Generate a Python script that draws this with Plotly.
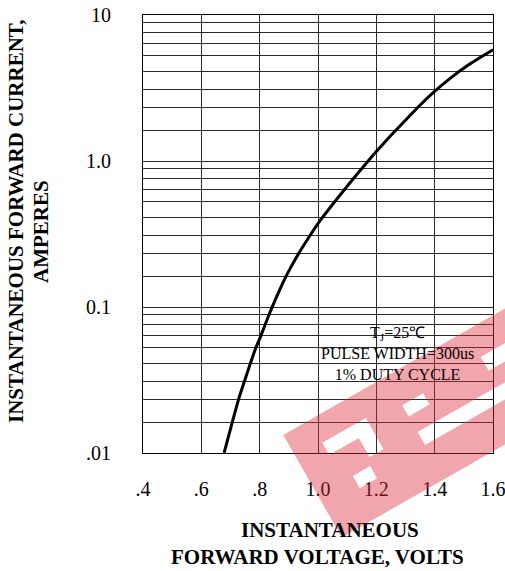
import plotly.graph_objects as go

# ---- data ----
VF = [0.678, 0.706, 0.728, 0.749, 0.768, 0.786, 0.805, 0.822, 0.841, 0.864,
      0.884, 0.908, 0.934, 0.980, 1.009, 1.071, 1.116, 1.167, 1.200, 1.253,
      1.301, 1.347, 1.394, 1.452, 1.509, 1.600]
IF = [0.0100, 0.0162, 0.0234, 0.0315, 0.0410, 0.0520, 0.0642, 0.0787, 0.0978, 0.125,
      0.153, 0.189, 0.233, 0.325, 0.395, 0.569, 0.736, 0.974, 1.16, 1.52,
      1.91, 2.38, 2.93, 3.67, 4.46, 5.78]

X_TICKS = [0.4, 0.6, 0.8, 1.0, 1.2, 1.4, 1.6]
X_TICKTEXT = [".4", ".6", ".8", "1.0", "1.2", "1.4", "1.6"]
Y_TICKS = [0.01, 0.1, 1.0, 10.0]
Y_TICKTEXT = [".01", "0.1", "1.0", "10"]
# intermediate grid lines inside each decade (as drawn in the reference)
GRID_MANTISSAS = [1.63, 2.34, 3.11, 4.09, 5.24, 6.43, 7.64, 8.91]
DECADES = [0.01, 0.1, 1.0]

NOTE_LINES = ["T<sub>J</sub>=25\u2103", "PULSE WIDTH=300us", "1% DUTY CYCLE"]
X_TITLE = ["INSTANTANEOUS", "FORWARD VOLTAGE, VOLTS"]
Y_TITLE = ["INSTANTANEOUS FORWARD CURRENT,", "AMPERES"]

minor_vals = [m * d for d in DECADES for m in GRID_MANTISSAS]

# ---- layout geometry (reference pixels) ----
W_REF, H_REF = 505, 571
L_REF, R_REF, T_REF, B_REF = 143, 493, 15, 453
PW = R_REF - L_REF
PH = B_REF - T_REF


def px(x):
    return (x - L_REF) / PW


def py(y):
    return (B_REF - y) / PH


SERIF = "Liberation Serif, Times New Roman, serif"
GRID = "#2a2a2a"

fig = go.Figure()
fig.add_trace(go.Scatter(x=VF, y=IF, mode="lines",
                         line=dict(color="black", width=3, shape="spline", smoothing=0.8),
                         showlegend=False, hoverinfo="skip"))

fig.update_xaxes(range=[0.4, 1.6], tickvals=X_TICKS, ticktext=X_TICKTEXT,
                 showgrid=True, gridcolor=GRID, gridwidth=1, zeroline=False,
                 showline=True, linecolor="black", linewidth=1, mirror=True,
                 ticks="", ticklabelstandoff=18, automargin=False,
                 ticklabeloverflow="allow",
                 tickfont=dict(family=SERIF, size=20, color="black"))
fig.update_yaxes(type="log", range=[-2, 1], tickvals=Y_TICKS, ticktext=Y_TICKTEXT,
                 showgrid=True, gridcolor=GRID, gridwidth=1, zeroline=False,
                 showline=True, linecolor="black", linewidth=1, mirror=True,
                 ticks="", ticklabelstandoff=27, automargin=False,
                 ticklabeloverflow="allow",
                 tickfont=dict(family=SERIF, size=20, color="black"),
                 minor=dict(tickvals=minor_vals, showgrid=True, gridcolor=GRID,
                            gridwidth=1, ticks=""))

# white note box
fig.add_shape(type="rect", xref="paper", yref="paper",
              x0=px(317), x1=px(487), y0=py(391), y1=py(318),
              fillcolor="white", line=dict(width=0), layer="between")
fig.add_annotation(xref="paper", yref="paper", x=px(397), y=py(353),
                   text="<br>".join(NOTE_LINES), showarrow=False,
                   font=dict(family=SERIF, size=16, color="black"),
                   align="center", xanchor="center", yanchor="middle")

# axis titles
fig.add_annotation(xref="paper", yref="paper", x=px(330), y=py(530), text="<b>%s</b>" % X_TITLE[0],
                   showarrow=False, font=dict(family=SERIF, size=21, color="black"),
                   xanchor="center", yanchor="middle")
fig.add_annotation(xref="paper", yref="paper", x=px(317), y=py(557), text="<b>%s</b>" % X_TITLE[1],
                   showarrow=False, font=dict(family=SERIF, size=21, color="black"),
                   xanchor="center", yanchor="middle")
fig.add_annotation(xref="paper", yref="paper", x=px(16), y=py(221), text="<b>%s</b>" % Y_TITLE[0],
                   showarrow=False, textangle=-90, font=dict(family=SERIF, size=21, color="black"),
                   xanchor="center", yanchor="middle")
fig.add_annotation(xref="paper", yref="paper", x=px(41), y=py(232), text="<b>%s</b>" % Y_TITLE[1],
                   showarrow=False, textangle=-90, font=dict(family=SERIF, size=21, color="black"),
                   xanchor="center", yanchor="middle")

# translucent red watermark (rotated band with cut-outs)
O = (283.3, 435.0)
U = (0.869, -0.496)
V = (0.496, 0.869)


def band_pt(u, v):
    x = O[0] + u * U[0] + v * V[0]
    y = O[1] + u * U[1] + v * V[1]
    return "%.4f,%.4f" % (px(x), py(y))


def quad(u0, u1, v0, v1):
    return "M%s L%s L%s L%s Z" % (band_pt(u0, v0), band_pt(u1, v0),
                                  band_pt(u1, v1), band_pt(u0, v1))


path = quad(0, 320, 0, 118)
for r in [(30, 80, 26, 40), (64, 80, 40, 62), (40, 60, 70, 84),
          (118, 142, 33, 46), (118, 240, 64, 79), (210, 245, 30, 46)]:
    path += " " + quad(*r)
fig.add_shape(type="path", xref="paper", yref="paper", path=path,
              fillcolor="rgba(222,40,60,0.42)", line=dict(width=0),
              fillrule="evenodd", layer="above")

fig.update_layout(width=W_REF, height=H_REF,
                  margin=dict(l=L_REF, r=W_REF - R_REF, t=T_REF, b=H_REF - B_REF),
                  paper_bgcolor="white", plot_bgcolor="white",
                  showlegend=False)

# remove the default 8px body margin so the figure sits at the page origin
fig.write_html("out.html", config={"displayModeBar": False},
               post_script="document.body.style.margin='0';document.body.style.overflow='hidden';")
